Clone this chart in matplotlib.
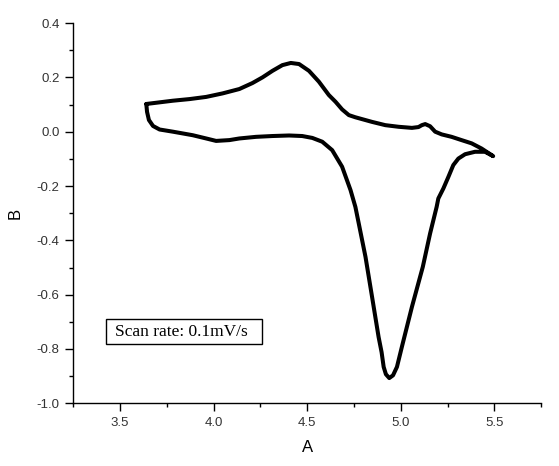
import matplotlib
matplotlib.use("Agg")
import matplotlib.pyplot as plt
from matplotlib.ticker import MultipleLocator
from matplotlib.patches import Rectangle

# Cyclic curve (closed loop)
x_vals = [3.640, 3.782, 3.871, 3.960, 4.048, 4.137, 4.207, 4.261, 4.314, 4.367,
          4.412, 4.456, 4.509, 4.562, 4.615, 4.651, 4.686, 4.722, 4.757, 4.846,
          4.917, 4.988, 5.059, 5.094, 5.112, 5.130, 5.156, 5.183, 5.218, 5.271,
          5.324, 5.378, 5.431, 5.484, 5.493,
          5.449, 5.396, 5.343, 5.307, 5.280, 5.254, 5.227, 5.200, 5.191, 5.156,
          5.117, 5.059, 5.005, 4.979, 4.958, 4.938, 4.920, 4.908, 4.897, 4.881,
          4.846, 4.811, 4.775, 4.757, 4.731, 4.686, 4.633, 4.580, 4.527, 4.473,
          4.403, 4.314, 4.226, 4.137, 4.084, 4.013, 3.960, 3.888, 3.782, 3.711,
          3.676, 3.654, 3.644, 3.640]
y_vals = [0.102, 0.114, 0.120, 0.128, 0.141, 0.157, 0.179, 0.200, 0.224, 0.245,
          0.253, 0.249, 0.224, 0.184, 0.135, 0.110, 0.082, 0.061, 0.053, 0.036,
          0.024, 0.018, 0.014, 0.017, 0.024, 0.028, 0.020, 0.000, -0.010, -0.019,
          -0.031, -0.043, -0.062, -0.086, -0.090,
          -0.074, -0.074, -0.083, -0.099, -0.123, -0.166, -0.209, -0.246, -0.277, -0.375,
          -0.498, -0.645, -0.793, -0.866, -0.897, -0.907, -0.893, -0.866, -0.812, -0.756,
          -0.608, -0.461, -0.338, -0.277, -0.215, -0.129, -0.068, -0.037, -0.023, -0.016,
          -0.014, -0.016, -0.019, -0.025, -0.031, -0.034, -0.025, -0.013, 0.000, 0.008,
          0.021, 0.043, 0.073, 0.102]

x_label = "A"
y_label = "B"
note = "Scan rate: 0.1mV/s"

fig = plt.figure(figsize=(5.59, 4.66), dpi=100)
ax = fig.add_axes([0.1311, 0.1345, 0.8372, 0.8161])

ax.plot(x_vals, y_vals, color="black", lw=2.9, solid_joinstyle="round",
        solid_capstyle="round")

ax.set_xlim(3.25, 5.75)
ax.set_ylim(-1.0, 0.4)
ax.xaxis.set_major_locator(MultipleLocator(0.5))
ax.xaxis.set_minor_locator(MultipleLocator(0.25))
ax.yaxis.set_major_locator(MultipleLocator(0.2))
ax.yaxis.set_minor_locator(MultipleLocator(0.1))

for s in ("top", "right"):
    ax.spines[s].set_visible(False)
for s in ("left", "bottom"):
    ax.spines[s].set_linewidth(1.0)

ax.tick_params(which="major", direction="out", length=6, width=1.0,
               labelsize=9.5, labelcolor="#333333", pad=4)
ax.tick_params(which="minor", direction="out", length=3, width=1.0)

ax.xaxis.set_major_formatter(plt.FuncFormatter(lambda v, p: f"{v:.1f}"))
ax.yaxis.set_major_formatter(plt.FuncFormatter(lambda v, p: f"{v:.1f}"))
for lbl in ax.get_xticklabels() + ax.get_yticklabels():
    lbl.set_family("Liberation Sans")

ax.set_xlabel(x_label, fontsize=12, family="Liberation Sans", labelpad=8)
ax.set_ylabel(y_label, fontsize=12, family="Liberation Sans", labelpad=10)

ax.add_patch(Rectangle((0.0699, 0.156), 0.3327, 0.0649, transform=ax.transAxes,
                       fc="white", ec="black", lw=1.0, zorder=3))
ax.text(0.2316, 0.1888, note, transform=ax.transAxes, fontsize=12.5,
        family="Liberation Serif", ha="center", va="center", zorder=4)

fig.savefig("out.png", dpi=100)
